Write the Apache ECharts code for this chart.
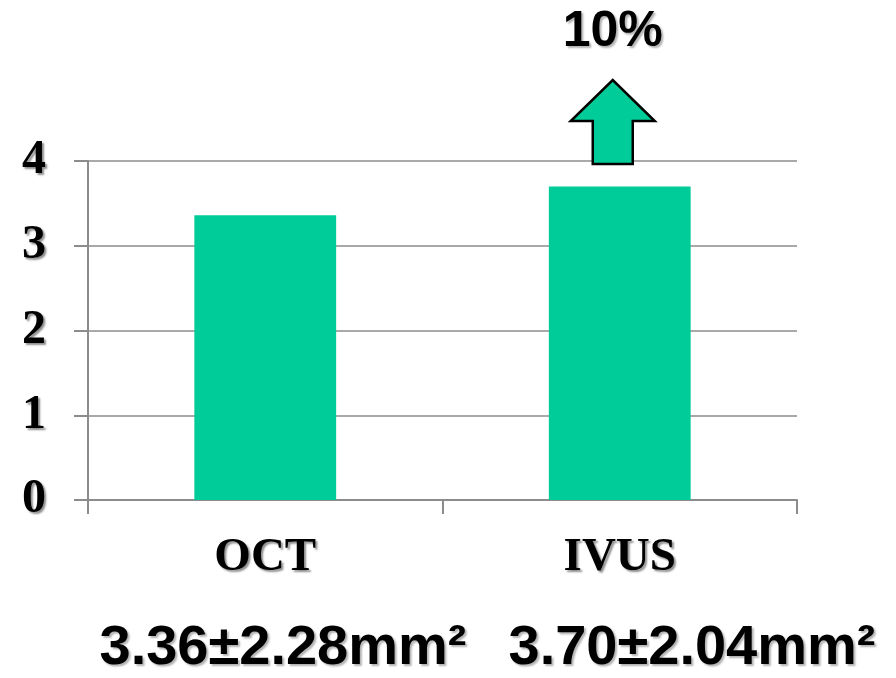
<!DOCTYPE html>
<html><head><meta charset="utf-8">
<script src="https://cdn.jsdelivr.net/npm/echarts@6/dist/echarts.min.js"></script>
<style>html,body{margin:0;padding:0;background:#fff}#c{width:896px;height:678px}</style>
</head><body><div id="c"></div>
<script>
const categories = ['OCT', 'IVUS'];
const meanArea = [3.36, 3.70];
const yTicks = [0, 1, 2, 3, 4];
const statLabels = ['3.36±2.28mm²', '3.70±2.04mm²'];
const changeLabel = '10%';

const green = '#00CC99';
const serif = '"Liberation Serif", "Times New Roman", serif';
const sans = '"Liberation Sans", Arial, sans-serif';
const chart = echarts.init(document.getElementById('c'));
const shadow = {textShadowColor:'rgba(0,0,0,0.45)', textShadowOffsetX:2, textShadowOffsetY:2, textShadowBlur:2};
chart.setOption({
  animation:false,
  grid:{left:88, right:99, top:161, bottom:178},
  xAxis:{type:'category', data:categories,
    axisLine:{lineStyle:{color:'#8c8c8c', width:2}},
    axisTick:{show:true, length:14, lineStyle:{color:'#8c8c8c', width:2}},
    axisLabel:Object.assign({color:'#000', fontFamily:serif, fontWeight:'bold', fontSize:47, margin:34}, shadow)
  },
  yAxis:{type:'value', min:yTicks[0], max:yTicks[yTicks.length-1], interval:1,
    axisLine:{show:true, lineStyle:{color:'#8c8c8c', width:2}},
    axisTick:{show:true, length:14, lineStyle:{color:'#8c8c8c', width:2}},
    splitLine:{lineStyle:{color:'#8c8c8c', width:1.5}},
    axisLabel:Object.assign({color:'#000', fontFamily:serif, fontWeight:'bold', fontSize:48, margin:42}, shadow)
  },
  series:[{type:'bar', data:meanArea, barWidth:'40%', itemStyle:{color:green}}]
});

const cx = chart.convertToPixel({xAxisIndex:0}, categories[1]) - 7;
const y4 = chart.convertToPixel({yAxisIndex:0}, 4);
const softShadow = {textShadowColor:'rgba(0,0,0,0.3)', textShadowOffsetX:2, textShadowOffsetY:2, textShadowBlur:2};
chart.setOption({graphic:[
  {type:'polygon', shape:{points:[[cx-20,y4+3],[cx-20,y4-40],[cx-42,y4-40],[cx,y4-81],[cx+42,y4-40],[cx+20,y4-40],[cx+20,y4+3]]},
   style:{fill:green, stroke:'#000', lineWidth:2.5}},
  {type:'text', x:cx, y:32, style:Object.assign({text:changeLabel, fill:'#000', fontFamily:sans, fontWeight:'bold', fontSize:50, align:'center', verticalAlign:'middle'}, softShadow)},
  {type:'text', x:283, y:649, style:Object.assign({text:statLabels[0], fill:'#000', fontFamily:sans, fontWeight:'bold', fontSize:56, align:'center', verticalAlign:'middle'}, softShadow)},
  {type:'text', x:692, y:649, style:Object.assign({text:statLabels[1], fill:'#000', fontFamily:sans, fontWeight:'bold', fontSize:56, align:'center', verticalAlign:'middle'}, softShadow)}
]});
</script></body></html>
